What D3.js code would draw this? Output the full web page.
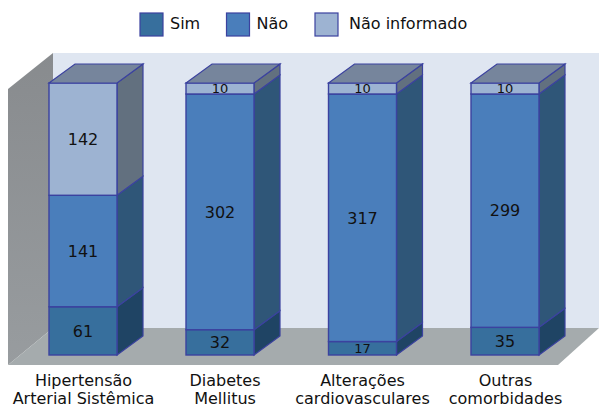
<!DOCTYPE html>
<html>
<head>
<meta charset="utf-8">
<script src="https://cdn.jsdelivr.net/npm/d3@7"></script>
<style>
  html, body { margin: 0; padding: 0; background: #fff; }
  svg { display: block; }
  text { font-family: "DejaVu Sans", sans-serif; fill: #111; }
</style>
</head>
<body>
<svg id="chart" width="599" height="407"></svg>
<script>
const categories = ["Hipertensão|Arterial Sistêmica", "Diabetes|Mellitus", "Alterações|cardiovasculares", "Outras|comorbidades"]
const sim = [61, 32, 17, 35]
const nao = [141, 302, 317, 299]
const naoInformado = [142, 10, 10, 10]
const seriesNames = ["Sim", "Não", "Não informado"]

const colors = {
    "Sim": {front: "#376f9d", side: "#1f4464"},
    "Não": {front: "#4a7ebb", side: "#2f5678"},
    "Não informado": {front: "#9db3d2", side: "#62707f"}
}
const topColor = "#76859c"
const stroke = "#3b429f"

const barWidth = 68, depthX = 26, depthY = 19
const minTop = 11 // thin top segments are drawn a little taller in the original

const svg = d3.select("#chart")

const x = d3.scaleOrdinal()
    .domain(categories)
    .range([83, 220, 362.5, 505])

// labels are not quite under the bars in the original
const xLabels = d3.scaleOrdinal()
    .domain(categories)
    .range([83, 224.5, 362, 505])

const y = d3.scaleLinear()
    .domain([0, 344])
    .range([355, 83])

/* walls and floor */
const wallGrad = svg.append("defs").append("linearGradient")
    .attr("id", "wall")
    .attr("x1", 0).attr("x2", 0).attr("y1", 0).attr("y2", 1)
wallGrad.append("stop").attr("offset", "0").attr("stop-color", "#888b8e")
wallGrad.append("stop").attr("offset", "1").attr("stop-color", "#989c9f")

svg.append("rect")
    .attr("x", 53).attr("y", 53)
    .attr("width", 546).attr("height", 275)
    .attr("fill", "#dfe6f1")
svg.append("polygon")
    .attr("points", "8,89 53,53 53,328 8,365")
    .attr("fill", "url(#wall)")
svg.append("polygon")
    .attr("points", "8,365 53,328 599,328 558,365")
    .attr("fill", "#a5abad")

/* stacked segments */
const rows = categories.map((c, i) => {
    const total = sim[i] + nao[i] + naoInformado[i]
    const y0 = y(sim[i])
    const yTop = y(total)
    const y1 = Math.max(y(sim[i] + nao[i]), yTop + minTop)
    return {
        category: c,
        segments: [
            {name: "Sim", value: sim[i], bottom: y(0), top: y0},
            {name: "Não", value: nao[i], bottom: y0, top: y1},
            {name: "Não informado", value: naoInformado[i], bottom: y1, top: yTop}
        ]
    }
})

const bar = svg.selectAll("g.bar")
    .data(rows)
    .enter()
    .append("g")
    .attr("class", "bar")
    .attr("transform", d => "translate(" + (x(d.category) - barWidth / 2) + ",0)")

const seg = bar.selectAll("g")
    .data(d => d.segments)
    .enter()
    .append("g")

seg.append("polygon")
    .attr("points", d => [
        [barWidth, d.bottom],
        [barWidth + depthX, d.bottom - depthY],
        [barWidth + depthX, d.top - depthY],
        [barWidth, d.top]
    ].join(" "))
    .attr("fill", d => colors[d.name].side)
    .attr("stroke", stroke)
    .attr("stroke-width", 1.2)

seg.append("rect")
    .attr("y", d => d.top)
    .attr("width", barWidth)
    .attr("height", d => d.bottom - d.top)
    .attr("fill", d => colors[d.name].front)
    .attr("stroke", stroke)
    .attr("stroke-width", 1.4)

bar.append("polygon")
    .attr("points", d => {
        const t = d.segments[2].top
        return [[0, t], [depthX, t - depthY], [barWidth + depthX, t - depthY], [barWidth, t]].join(" ")
    })
    .attr("fill", topColor)
    .attr("stroke", stroke)
    .attr("stroke-width", 1.2)

seg.append("text")
    .attr("x", barWidth / 2)
    .attr("y", d => (d.top + d.bottom) / 2)
    .attr("dy", ".36em")
    .attr("text-anchor", "middle")
    .attr("font-size", d => d.bottom - d.top < 20 ? 13 : 16)
    .text(d => d.value)

/* category labels */
const xAxis = d3.axisBottom(xLabels).tickSize(0).tickFormat("")
const axisG = svg.append("g")
    .attr("transform", "translate(0,355)")
    .call(xAxis)
axisG.select(".domain").remove()
axisG.selectAll(".tick text")
    .attr("font-size", 16)
    .attr("font-family", "DejaVu Sans, sans-serif")
    .attr("fill", "#111")
    .each(function(d) {
        const t = d3.select(this).attr("y", null).attr("dy", null)
        d.split("|").forEach((line, i) => {
            t.append("tspan")
                .attr("x", 0)
                .attr("y", 31 + i * 17.5)
                .text(line)
        })
    })

/* legend */
const legendX = d3.scaleOrdinal()
    .domain(seriesNames)
    .range([140, 226.5, 315])
const legend = svg.selectAll("g.legend")
    .data(seriesNames)
    .enter()
    .append("g")
    .attr("class", "legend")
    .attr("transform", d => "translate(" + legendX(d) + ",13)")
legend.append("rect")
    .attr("width", 23)
    .attr("height", 23)
    .attr("fill", d => colors[d].front)
    .attr("stroke", stroke)
    .attr("stroke-width", 1.2)
legend.append("text")
    .attr("x", d => d === "Não informado" ? 34 : 30)
    .attr("y", 16)
    .attr("font-size", 16)
    .text(d => d)
</script>
</body>
</html>
